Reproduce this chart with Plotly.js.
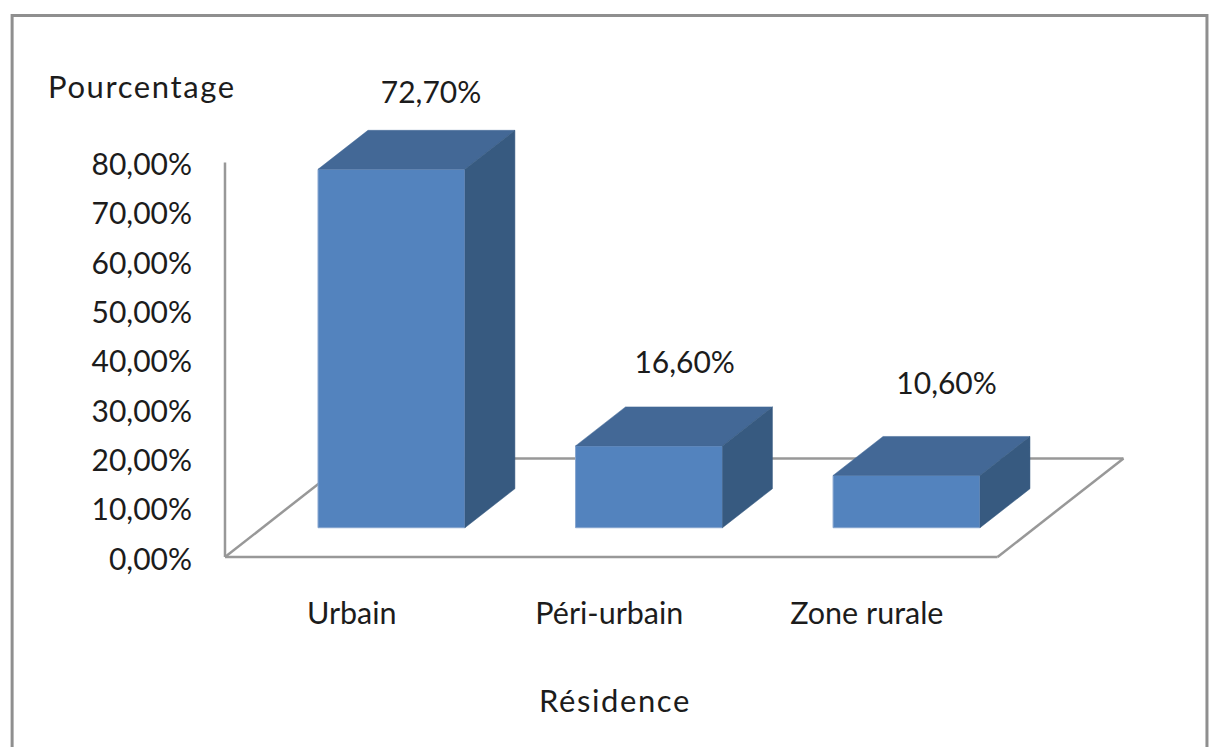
<!DOCTYPE html>
<html lang="fr">
<head>
<meta charset="utf-8">
<title>Répartition selon la résidence</title>
<script src="https://cdn.plot.ly/plotly-3.0.1.min.js"></script>
<style>
  html, body { margin: 0; padding: 0; background: #ffffff; overflow: hidden; }
  #chart { width: 1210px; height: 747px; }
  .annotation-text { letter-spacing: 1.6px; }
</style>
</head>
<body>
<div id="chart"></div>
<script>
// Chart content
const categories = ["Urbain", "Péri-urbain", "Zone rurale"];
const shares = [72.7, 16.6, 10.6];
const axisTicks = [0, 10, 20, 30, 40, 50, 60, 70, 80];
const axisTickLabels = ["0,00%", "10,00%", "20,00%", "30,00%", "40,00%", "50,00%", "60,00%", "70,00%", "80,00%"];

// Plot rectangle in page pixels and the scale of its axes.
// A small pad around the origin keeps the full stroke of the floor lines visible.
const PAD = 10;
const PLOT = { left: 214.5, right: 1130, top: 70, bottom: 557 + PAD };
const PX_PER_CATEGORY = 257.67;
const PX_PER_PERCENT = 4.93;
const floorLeft = -0.5;
const xMin = floorLeft - PAD / PX_PER_CATEGORY;
const xMax = xMin + (PLOT.right - PLOT.left) / PX_PER_CATEGORY;
const yMin = -PAD / PX_PER_PERCENT;
const yMax = yMin + (PLOT.bottom - PLOT.top) / PX_PER_PERCENT;

// Oblique projection of the bars, in axis units
const barWidth = 0.5705;
const barShift = 0.1465;     // front face sits right of the category centre
const barLift = 5.94;        // and above the front edge of the floor
const depthX = 0.194;
const depthY = 7.91;
const floorDepthX = 0.489;
const floorDepthY = 20.0;
const labelOffsetX = [0.30, 0.285, 0.302];
const labelLift = [7.1, 8.3, 10.15];

const COLORS = { front: "#5383be", top: "#436896", side: "#375a80", edge: "#86a5cf", rule: "#989898", ink: "#1c1c1c" };
const FONT = "Lato, 'Open Sans', sans-serif";
const TICK_SIZE = 30;
const CATEGORY_SIZE = 30.5;
const TITLE_SIZE = 31;

const frontX = categories.map((_, i) => i + barShift);

// Closed polygons for the visible top and side of each block
function facePolygons(corners) {
  const xs = [], ys = [];
  shares.forEach((v, i) => {
    corners(frontX[i] - barWidth / 2, frontX[i] + barWidth / 2, barLift, barLift + v).forEach(p => {
      xs.push(p[0]); ys.push(p[1]);
    });
    xs.push(null); ys.push(null);
  });
  return { x: xs, y: ys };
}

const topFace = facePolygons((l, r, b, t) => [[l, t], [r, t], [r + depthX, t + depthY], [l + depthX, t + depthY], [l, t]]);
const sideFace = facePolygons((l, r, b, t) => [[r, b], [r + depthX, b + depthY], [r + depthX, t + depthY], [r, t], [r, b]]);

const frontBars = {
  type: "bar",
  x: frontX,
  y: shares,
  base: shares.map(() => barLift),
  width: barWidth,
  marker: { color: COLORS.front, line: { color: COLORS.edge, width: 1 } },
  hoverinfo: "skip"
};

const polygonTrace = (face, color) => ({
  type: "scatter",
  mode: "lines",
  x: face.x,
  y: face.y,
  fill: "toself",
  fillcolor: color,
  line: { color: color, width: 0.5 },
  hoverinfo: "skip"
});

const valueLabels = {
  type: "scatter",
  mode: "text",
  x: shares.map((_, i) => i + labelOffsetX[i]),
  y: shares.map((v, i) => barLift + v + depthY + labelLift[i]),
  text: shares.map(v => v.toFixed(2).replace(".", ",") + "%"),
  textposition: "middle center",
  textfont: { family: FONT, size: TICK_SIZE, color: COLORS.ink },
  hoverinfo: "skip"
};

// Floor outline and the value axis, kept beneath the bars
const ruleLine = (x0, y0, x1, y1) => ({
  type: "line", xref: "x", yref: "y", layer: "below",
  x0, y0, x1, y1,
  line: { color: COLORS.rule, width: 2.5 }
});

const floorRight = categories.length - 0.5;
const axisTop = axisTicks[axisTicks.length - 1];
const axisRules = [
  ruleLine(floorLeft, 0, floorLeft, axisTop),
  ruleLine(floorLeft, 0, floorRight, 0),
  ruleLine(floorLeft, 0, floorLeft + floorDepthX, floorDepthY),
  ruleLine(floorLeft + floorDepthX, floorDepthY, floorRight + floorDepthX, floorDepthY),
  ruleLine(floorRight + floorDepthX, floorDepthY, floorRight, 0)
];

// Paper coordinates for the outer frame and the two titles
const px = x => (x - PLOT.left) / (PLOT.right - PLOT.left);
const py = y => (PLOT.bottom - y) / (PLOT.bottom - PLOT.top);

const frame = {
  type: "rect", xref: "paper", yref: "paper", layer: "below",
  x0: px(11.5), x1: px(1207), y0: py(780), y1: py(15.5),
  line: { color: "#8f8f8f", width: 3 }, fillcolor: "rgba(0,0,0,0)"
};

const textNote = (text, x, y) => ({
  text, xref: "paper", yref: "paper", x: px(x), y: py(y),
  xanchor: "center", yanchor: "middle", showarrow: false,
  font: { family: FONT, size: TITLE_SIZE, color: COLORS.ink }
});

const layout = {
  width: 1210,
  height: 747,
  margin: { l: PLOT.left, r: 1210 - PLOT.right, t: PLOT.top, b: 747 - PLOT.bottom, pad: 0 },
  paper_bgcolor: "#ffffff",
  plot_bgcolor: "rgba(0,0,0,0)",
  showlegend: false,
  xaxis: {
    range: [xMin, xMax],
    tickmode: "array",
    tickvals: categories.map((_, i) => i),
    ticktext: categories,
    ticks: "",
    ticklabelstandoff: 25,
    ticklabelshift: -2,
    showgrid: false,
    zeroline: false,
    showline: false,
    tickfont: { family: FONT, size: CATEGORY_SIZE, color: COLORS.ink }
  },
  yaxis: {
    range: [yMin, yMax],
    tickmode: "array",
    tickvals: axisTicks,
    ticktext: axisTickLabels,
    ticks: "",
    ticklabelstandoff: 22,
    ticklabelshift: 2,
    showgrid: false,
    zeroline: false,
    showline: false,
    tickfont: { family: FONT, size: TICK_SIZE, color: COLORS.ink }
  },
  shapes: [frame].concat(axisRules),
  annotations: [
    textNote("Pourcentage", 141, 86),
    textNote("Résidence", 615, 700)
  ]
};

Plotly.newPlot("chart", [frontBars, polygonTrace(topFace, COLORS.top), polygonTrace(sideFace, COLORS.side), valueLabels], layout, { displayModeBar: false, staticPlot: true });
</script>
</body>
</html>
